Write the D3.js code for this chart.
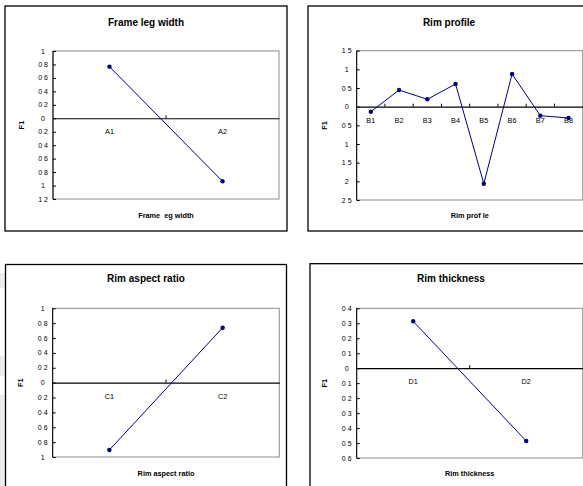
<!DOCTYPE html>
<html><head><meta charset="utf-8">
<script src="https://cdn.jsdelivr.net/npm/d3@7"></script>
<style>
html,body{margin:0;padding:0;background:#fff;}
svg{display:block;font-family:"Liberation Sans",Arial,sans-serif;}
text{white-space:pre;}
</style></head>
<body>
<svg id="c" width="583" height="486"></svg>
<script>
// ---- data ----
const frameCats = ["A1","A2"];
const frameVals = [0.767, -0.937];
const frameTicks = [1,0.8,0.6,0.4,0.2,0,-0.2,-0.4,-0.6,-0.8,-1,-1.2];
const frameTickLabels = ["1","0 8","0 6","0 4","0 2","0","0 2","0 4","0 6","0 8","1","1 2"];

const profileCats = ["B1","B2","B3","B4","B5","B6","B7","B8"];
const profileVals = [-0.134, 0.447, 0.198, 0.608, -2.063, 0.876, -0.241, -0.303];
const profileTicks = [1.5,1,0.5,0,-0.5,-1,-1.5,-2,-2.5];
const profileTickLabels = ["1 5","1","0 5","0","0 5","1","1 5","2","2 5"];

const aspectCats = ["C1","C2"];
const aspectVals = [-0.906, 0.739];
const aspectTicks = [1,0.8,0.6,0.4,0.2,0,-0.2,-0.4,-0.6,-0.8,-1];
const aspectTickLabels = ["1","0 8","0 6","0 4","0 2","0","0 2","0 4","0 6","0 8","1"];

const thickCats = ["D1","D2"];
const thickVals = [0.313, -0.486];
const thickTicks = [0.4,0.3,0.2,0.1,0,-0.1,-0.2,-0.3,-0.4,-0.5,-0.6];
const thickTickLabels = ["0 4","0 3","0 2","0 1","0","0 1","0 2","0 3","0 4","0 5","0 6"];

const titles = ["Frame leg width","Rim profile","Rim aspect ratio","Rim thickness"];
const axisTitles = ["Frame  eg width","Rim prof le","Rim aspect ratio","Rim thickness"];

// ---- layout ----
const svg = d3.select("#c");
// faint scan artifacts on left edge
[[273,15],[356,20],[395,91]].forEach(([y,h])=>{
  svg.append("rect").attr("x",0).attr("y",y).attr("width",4.5).attr("height",h).attr("fill","#ececec");
});

const panels = [
  {box:[5,6,282,225], plot:[53,51,226,148], cats:frameCats, vals:frameVals, ticks:frameTicks, labels:frameTickLabels, title:titles[0], xt:axisTitles[0], ty:22, xty:215},
  {box:[308,6,282,225], plot:[356.7,50.7,226,149.3], cats:profileCats, vals:profileVals, ticks:profileTicks, labels:profileTickLabels, title:titles[1], xt:axisTitles[1], ty:22, xty:215},
  {box:[5.5,264.5,281,230], plot:[52.7,308.3,226.6,148.7], cats:aspectCats, vals:aspectVals, ticks:aspectTicks, labels:aspectTickLabels, title:titles[2], xt:axisTitles[2], ty:278, xty:473},
  {box:[310,263.7,282,230], plot:[356.7,308.3,226,149.7], cats:thickCats, vals:thickVals, ticks:thickTicks, labels:thickTickLabels, title:titles[3], xt:axisTitles[3], ty:278, xty:473}
];

panels.forEach(p=>{
  const g = svg.append("g");
  const [bx,by,bw,bh] = p.box;
  g.append("rect").attr("x",bx).attr("y",by).attr("width",bw).attr("height",bh)
    .attr("fill","#fff").attr("stroke","#000").attr("stroke-width",1.3);
  const [px,py,pw,ph] = p.plot;
  const y = d3.scaleLinear().domain([p.ticks[p.ticks.length-1], p.ticks[0]]).range([py+ph, py]);
  const x = d3.scaleBand().domain(p.cats).range([px, px+pw]);

  // plot frame
  g.append("rect").attr("x",px).attr("y",py).attr("width",pw).attr("height",ph)
    .attr("fill","none").attr("stroke","#8c8c8c").attr("stroke-width",1);

  // title
  g.append("text").attr("x",bx+bw/2).attr("y",p.ty).attr("text-anchor","middle")
    .attr("dominant-baseline","central").attr("font-size",10).attr("font-weight","bold").text(p.title);
  // axis title
  g.append("text").attr("x",px+pw/2).attr("y",p.xty).attr("text-anchor","middle")
    .attr("dominant-baseline","central").attr("font-size",7.3).attr("font-weight","bold").text(p.xt);
  // F1
  g.append("text").attr("transform",`translate(${px-32},${py+ph/2}) rotate(-90)`)
    .attr("text-anchor","middle").attr("dominant-baseline","central")
    .attr("font-size",7.5).attr("font-weight","bold").text("F1");

  // y axis
  const yAxis = d3.axisRight(y).tickValues(p.ticks).tickSize(3).tickFormat("");
  const ya = g.append("g").attr("transform",`translate(${px},0)`).call(yAxis);
  ya.select(".domain").attr("stroke","#000").attr("d",`M0,${py}V${py+ph}`);
  ya.selectAll(".tick line").attr("stroke","#000");
  p.ticks.forEach((t,i)=>{
    g.append("text").attr("x",px-10).attr("y",y(t)).attr("text-anchor","middle")
      .attr("dominant-baseline","central").attr("font-size",7).text(p.labels[i]);
  });

  // category axis at zero
  const y0 = y(0);
  const xa = g.append("g").attr("transform",`translate(0,${y0})`)
    .call(d3.axisTop(x).tickSize(0).tickFormat(""));
  xa.select(".domain").attr("stroke","#000").attr("stroke-width",1.2);
  // boundary ticks
  p.cats.forEach((c,i)=>{
    if(i===0) return;
    const bxp = x(c);
    g.append("line").attr("x1",bxp).attr("x2",bxp).attr("y1",y0).attr("y2",y0-3)
      .attr("stroke","#000");
  });
  p.cats.forEach(c=>{
    g.append("text").attr("x",x(c)+x.bandwidth()/2).attr("y",y0+13.5).attr("text-anchor","middle")
      .attr("dominant-baseline","central").attr("font-size",7.3).text(c);
  });

  // line and markers
  const line = d3.line().x((d,i)=>x(p.cats[i])+x.bandwidth()/2).y(d=>y(d));
  g.append("path").attr("d",line(p.vals)).attr("fill","none").attr("stroke","#00008b").attr("stroke-width",1);
  g.selectAll("circle.m").data(p.vals).enter().append("circle")
    .attr("cx",(d,i)=>x(p.cats[i])+x.bandwidth()/2).attr("cy",d=>y(d)).attr("r",2.2)
    .attr("fill","#000080");
});
</script>
</body></html>
